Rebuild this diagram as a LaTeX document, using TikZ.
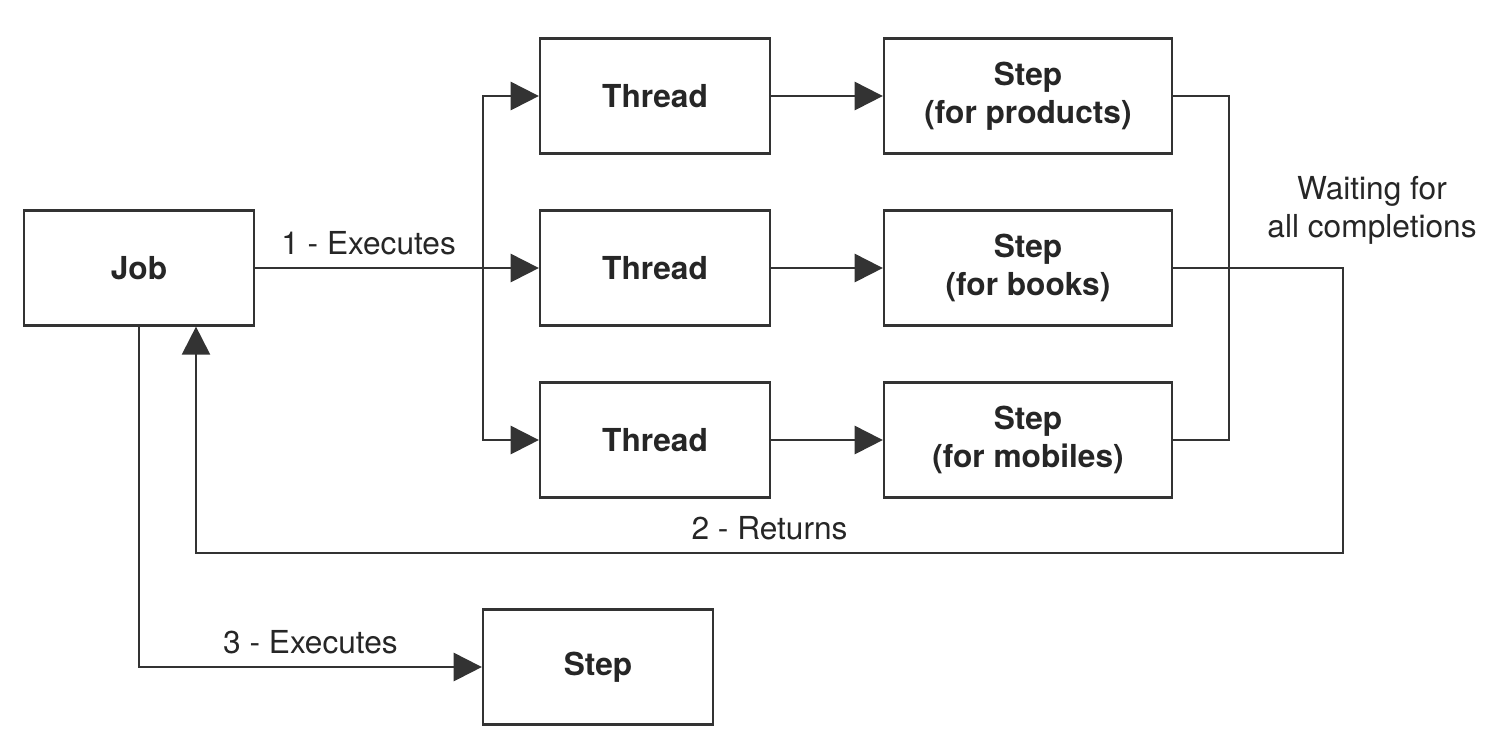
\documentclass[tikz,border=0pt]{standalone}
\usepackage{fontspec}
\setmainfont{TeX Gyre Heros}
\usetikzlibrary{arrows.meta}

\begin{document}
\begin{tikzpicture}[x=0.01cm,y=-0.01cm,
    line width=0.6pt, draw=black!80,
    every node/.style={font=\fontsize{9}{10.8}\selectfont, text=black!85},
    box/.style={draw, line width=0.6pt, minimum width=2.3cm, minimum height=1.15cm, align=center, font=\fontsize{9}{10.8}\selectfont\bfseries},
    stepbox/.style={box, minimum width=2.88cm},
    arr/.style={-{Triangle[length=8pt,width=8pt]}}]
        \useasboundingbox (0,0) rectangle (1502,738);
        \node[box] (job) at (139,268) {Job};
        \node[box] (t1) at (655,96) {Thread};
        \node[box] (t2) at (655,268) {Thread};
        \node[box] (t3) at (655,440) {Thread};
        \node[stepbox] (s1) at (1028,96) {Step\\(for products)};
        \node[stepbox] (s2) at (1028,268) {Step\\(for books)};
        \node[stepbox] (s3) at (1028,440) {Step\\(for mobiles)};
        \node[box] (s4) at (598,667) {Step};
        \node[align=center] (wait) at (1372,210) {Waiting for\\all completions};
        \coordinate (fork) at (483,268);
        \coordinate (join) at (1229,268);
        \coordinate (ret) at (1343,553);
        \coordinate (back) at (196,553);
        \draw[arr] (job.east) -- node[above,pos=0.4]{1 - Executes} (t2.west);
        \draw[arr] (fork |- t3.west) |- (t1.west);
        \draw[arr] (fork |- t1.west) |- (t3.west);
        \draw[arr] (t1) -- (s1);
        \draw[arr] (t2) -- (s2);
        \draw[arr] (t3) -- (s3);
        \draw (s1.east) -| (join |- s3.east) -- (s3.east);
        \draw[arr] (s2.east) -| (ret) -- node[above]{2 - Returns} (back) -- (back |- job.south);
        \draw[arr] (job.south) |- node[above,pos=0.75]{3 - Executes} (s4.west);
        % \draw[very thin,color=gray] (0,0) grid[step=100] (1502,738);
      \end{tikzpicture}
\end{document}
